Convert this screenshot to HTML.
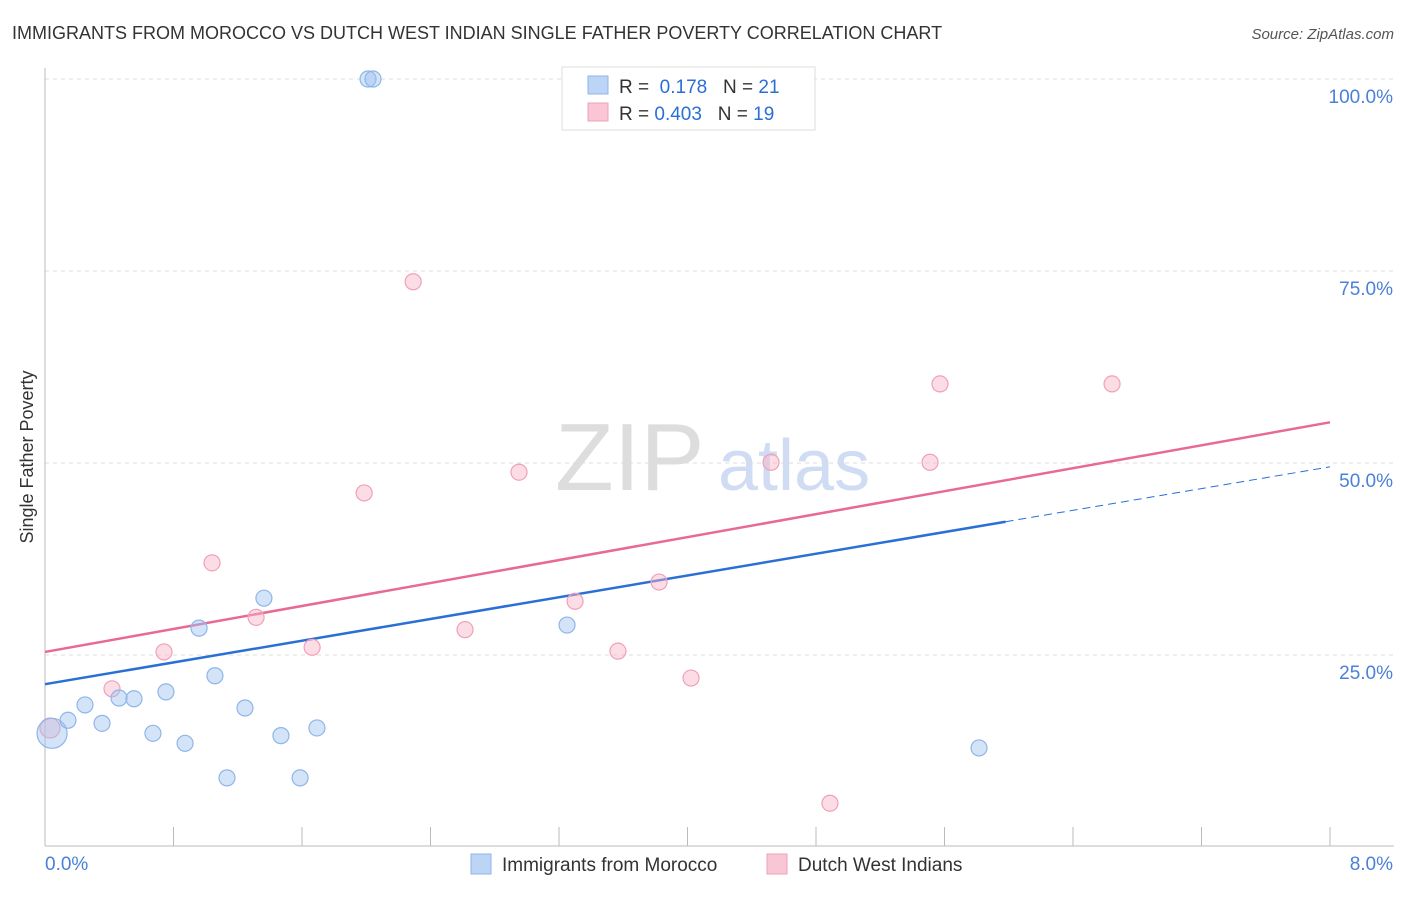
<!DOCTYPE html>
<html><head><meta charset="utf-8"><style>
body{margin:0;background:#fff;font-family:"Liberation Sans",sans-serif;}
svg text{font-family:"Liberation Sans",sans-serif;}
</style></head><body>
<svg id="c" width="1406" height="892">
<text x="12" y="39" font-size="18" fill="#333">IMMIGRANTS FROM MOROCCO VS DUTCH WEST INDIAN SINGLE FATHER POVERTY CORRELATION CHART</text>
<text x="1394" y="39" font-size="15" fill="#555" font-style="italic" text-anchor="end">Source: ZipAtlas.com</text>
<text x="33" y="457" font-size="18" fill="#333" text-anchor="middle" transform="rotate(-90 33 457)">Single Father Poverty</text>
<text x="555" y="490" font-size="96" fill="#ddd" font-family="Liberation Serif">ZIP</text>
<text x="718" y="490" font-size="72" fill="#cfdcf3">atlas</text>
<g id="grid"></g><g id="lines"></g><g id="pts"></g>
<g>
<rect x="562" y="67" width="253" height="63" fill="#fff" stroke="#ddd"/>
<rect x="588" y="76" width="20" height="18" fill="#bcd4f6" stroke="#8fb5e8"/>
<rect x="588" y="103" width="20" height="18" fill="#f9c6d5" stroke="#f0a0b8"/>
<text x="619" y="93" font-size="19" fill="#333">R = <tspan fill="#2a6fd6">&#160;0.178</tspan>&#160;&#160;&#160;N = <tspan fill="#2a6fd6">21</tspan></text>
<text x="619" y="120" font-size="19" fill="#333">R = <tspan fill="#2a6fd6">0.403</tspan>&#160;&#160;&#160;N = <tspan fill="#2a6fd6">19</tspan></text>
</g>
<g>
<rect x="471" y="854" width="20" height="20" fill="#bcd4f6" stroke="#8fb5e8"/>
<text x="502" y="871" font-size="19" fill="#333">Immigrants from Morocco</text>
<rect x="767" y="854" width="20" height="20" fill="#f9c6d5" stroke="#f0a0b8"/>
<text x="798" y="871" font-size="19" fill="#333">Dutch West Indians</text>
</g>
</svg>
<script>
const yTicks=[25,50,75,100];
const yTickLabels=["25.0%","50.0%","75.0%","100.0%"];
const xTicks=[0,0.8,1.6,2.4,3.2,4,4.8,5.6,6.4,7.2,8];
const blueX=[0.044,0.143,0.249,0.355,0.461,0.554,0.672,0.753,0.872,0.959,1.058,1.133,1.245,1.363,1.469,1.588,1.693,2.011,2.042,3.25,5.815];
const blueY=[14.8,16.5,18.5,16.1,19.4,19.3,14.8,20.2,13.5,28.5,22.3,9.0,18.1,32.4,14.5,9.0,15.5,100,100,28.9,12.9];
const blueR=[15,8,8,8,8,8,8,8,8,8,8,8,8,8,8,8,8,8,8,8,8];
const pinkX=[0.031,0.417,0.741,1.04,1.314,1.663,1.987,2.292,2.615,2.951,3.3,3.567,3.823,4.022,4.52,4.887,5.51,5.572,6.643];
const pinkY=[15.5,20.6,25.4,37.0,29.9,26.0,46.1,73.6,28.3,48.8,32.0,25.5,34.5,22.0,50.1,5.7,50.1,60.3,60.3];
const blueTrend=[21.2,49.5];
const pinkTrend=[25.4,55.3];
const blueSolidEnd=5.98;
const X=v=>45+v/8*1285, Y=v=>847-v*7.68;
const NS="http://www.w3.org/2000/svg";
function mk(p,t,a){const e=document.createElementNS(NS,t);for(const k in a)e.setAttribute(k,a[k]);p.appendChild(e);return e;}
const g=document.getElementById('grid');
yTicks.forEach((t,i)=>{
 const l=mk(g,'line',{x1:45,x2:1394,y1:Y(t),y2:Y(t),stroke:'#ddd','stroke-dasharray':'4,4'});
 
 
 const tx=mk(g,'text',{x:1393,y:Y(t)+24,'font-size':19,fill:'#4a80d8','text-anchor':'end'});
 tx.textContent=yTickLabels[i];
 
 
});
const ax=mk(g,'line',{x1:45,x2:1394,y1:846,y2:846,stroke:'#bbb'});


const ay=mk(g,'line',{x1:45,x2:45,y1:68,y2:846,stroke:'#bbb'});


xTicks.forEach(t=>{
 const l=mk(g,'line',{x1:X(t),x2:X(t),y1:827,y2:846,stroke:'#bbb'});
 
 
});
[["0.0%",45,'start'],["8.0%",1393,'end']].forEach(d=>{
 const tx=mk(g,'text',{x:d[1],y:870,'font-size':19,fill:'#4a80d8','text-anchor':d[2]});
 tx.textContent=d[0];
 
 
});
const L=document.getElementById('lines');
const by=x=>blueTrend[0]+(blueTrend[1]-blueTrend[0])*x/8;
const py=x=>pinkTrend[0]+(pinkTrend[1]-pinkTrend[0])*x/8;
const b1=mk(L,'line',{x1:X(0),y1:Y(by(0)),x2:X(blueSolidEnd),y2:Y(by(blueSolidEnd)),stroke:'#2a6fd6','stroke-width':2.5});


const b2=mk(L,'line',{x1:X(blueSolidEnd),y1:Y(by(blueSolidEnd)),x2:X(8),y2:Y(by(8)),stroke:'#2a6fd6','stroke-width':1,'stroke-dasharray':'8,5'});


const p1=mk(L,'line',{x1:X(0),y1:Y(py(0)),x2:X(8),y2:Y(py(8)),stroke:'#e86a94','stroke-width':2.5});


const P=document.getElementById('pts');
pinkX.forEach((x,i)=>{
 const c=mk(P,'circle',{cx:X(x),cy:Y(pinkY[i]),r:i==0?10:8,fill:'rgba(248,180,200,0.45)',stroke:'#f0a0b8','stroke-width':1.2});
 
 
});
blueX.forEach((x,i)=>{
 const c=mk(P,'circle',{cx:X(x),cy:Y(blueY[i]),r:blueR[i],fill:'rgba(160,195,240,0.45)',stroke:'#8fb5e8','stroke-width':1.2});
 
 
});
</script>
</body></html>
